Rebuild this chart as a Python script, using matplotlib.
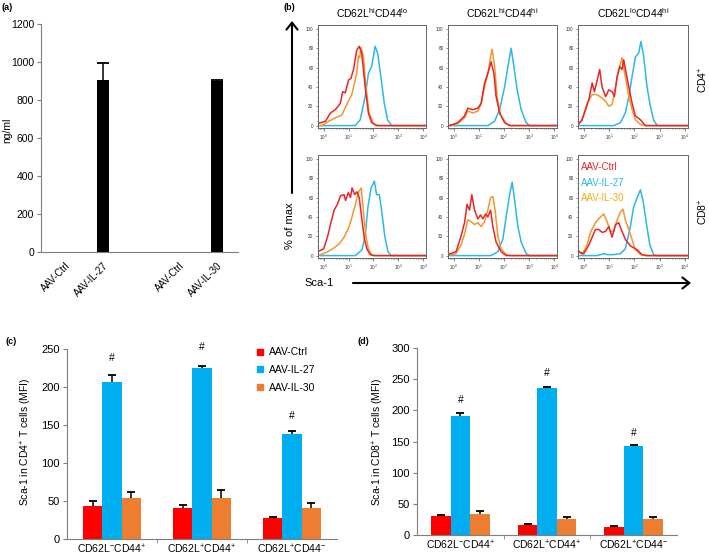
import matplotlib
matplotlib.use("Agg")
import matplotlib.pyplot as plt
from matplotlib.patches import FancyArrowPatch
from matplotlib.lines import Line2D
from matplotlib.ticker import MultipleLocator, FixedLocator

plt.rcParams['font.family'] = ['Liberation Sans', 'DejaVu Sans']
plt.rcParams['mathtext.fontset'] = 'custom'
plt.rcParams['mathtext.rm'] = 'Liberation Sans'
plt.rcParams['mathtext.it'] = 'Liberation Sans:italic'
plt.rcParams['mathtext.bf'] = 'Liberation Sans:bold'

W, H = 709, 560

# ---- (a) serum levels ----
a_labels = ['AAV-Ctrl', 'AAV-IL-27', 'AAV-Ctrl', 'AAV-IL-30']
a_pos = [0, 1, 3, 4]
a_values = [0, 905, 0, 900]
a_err = [0, 90, 0, 5]

# ---- (b) Sca-1 histograms: (log10 Sca-1, % of max) ----
cd4_hilo_ctrl = [(-0.25, 2), (0.07, 4.5), (0.27, 13), (0.47, 16.5), (0.67, 23), (0.76, 35), (0.87, 34),
                 (1.0, 47), (1.1, 49), (1.2, 58), (1.33, 78), (1.43, 82), (1.53, 75), (1.67, 40),
                 (1.8, 13), (1.93, 3), (2.13, 0), (4.15, 0)]
cd4_hilo_il30 = [(-0.25, 0), (-0.07, 0), (0.2, 4.5), (0.47, 8), (0.73, 11), (0.93, 22), (1.13, 32),
                 (1.33, 54), (1.4, 72), (1.45, 70), (1.5, 81), (1.6, 71), (1.7, 40), (1.83, 13),
                 (2.0, 2), (2.2, 0), (4.15, 0)]
cd4_hilo_il27 = [(-0.25, 0), (1.27, 0), (1.47, 6), (1.67, 30), (1.8, 54), (1.93, 61), (2.07, 82),
                 (2.17, 75), (2.3, 51), (2.44, 23), (2.57, 6), (2.73, 0), (4.15, 0)]

cd4_hihi_ctrl = [(-0.25, 0), (-0.17, 0), (0.16, 3), (0.43, 10), (0.56, 18), (0.76, 16.5), (0.96, 18),
                 (1.09, 23), (1.23, 44), (1.36, 54), (1.49, 66), (1.6, 54), (1.69, 30), (1.83, 13),
                 (2.03, 3), (2.23, 0), (4.15, 0)]
cd4_hihi_il30 = [(-0.25, 0), (-0.17, 0), (0.16, 2), (0.43, 8), (0.56, 15), (0.76, 13), (0.96, 15),
                 (1.09, 22), (1.23, 40), (1.36, 54), (1.47, 71), (1.53, 79), (1.63, 61), (1.73, 30),
                 (1.87, 11), (2.09, 2), (2.29, 0), (4.15, 0)]
cd4_hihi_il27 = [(-0.25, 0), (1.36, 0), (1.63, 4.5), (1.83, 16.5), (2.03, 40), (2.16, 61), (2.29, 80),
                 (2.4, 61), (2.53, 37), (2.69, 16.5), (2.89, 3), (3.03, 0), (4.15, 0)]

cd4_lohi_ctrl = [(-0.25, 0), (-0.07, 6), (0.07, 16.5), (0.2, 27), (0.33, 44), (0.42, 35), (0.53, 47),
                 (0.63, 58), (0.72, 40), (0.86, 30), (0.99, 37), (1.12, 35), (1.21, 30), (1.32, 51),
                 (1.42, 61), (1.51, 58), (1.58, 68), (1.64, 59), (1.78, 40), (1.91, 23), (2.04, 10),
                 (2.24, 6), (2.43, 0), (4.15, 0)]
cd4_lohi_il30 = [(-0.25, 0), (-0.07, 6), (0.13, 23), (0.33, 32), (0.53, 32), (0.72, 28.5), (0.86, 25),
                 (0.99, 20), (1.12, 22), (1.25, 40), (1.38, 58), (1.51, 70), (1.64, 51), (1.78, 30),
                 (1.91, 16.5), (2.04, 6), (2.24, 1), (2.43, 0), (4.15, 0)]
cd4_lohi_il27 = [(-0.25, 0), (1.18, 0), (1.45, 3), (1.64, 13), (1.78, 30), (1.91, 51), (2.04, 71),
                 (2.17, 75), (2.26, 87), (2.37, 71), (2.5, 40), (2.63, 20), (2.76, 6), (2.9, 0), (4.15, 0)]

cd8_hilo_ctrl = [(-0.25, 4), (0.0, 7), (0.16, 20), (0.29, 34), (0.42, 47), (0.55, 53), (0.68, 62),
                 (0.82, 63), (0.88, 57), (0.99, 65), (1.08, 60), (1.14, 70), (1.25, 63), (1.34, 66),
                 (1.43, 60), (1.54, 37), (1.64, 17), (1.74, 7), (1.87, 1), (2.0, 0), (4.15, 0)]
cd8_hilo_il30 = [(-0.25, 0), (0.09, 3), (0.36, 7), (0.62, 12), (0.82, 19), (1.01, 29), (1.14, 40),
                 (1.28, 53), (1.41, 66), (1.51, 70), (1.61, 43), (1.7, 20), (1.8, 7), (1.93, 1),
                 (2.07, 0), (4.15, 0)]
cd8_hilo_il27 = [(-0.25, 0), (1.28, 0), (1.54, 6), (1.67, 20), (1.78, 50), (1.91, 70), (2.04, 77),
                 (2.13, 63), (2.24, 63), (2.33, 47), (2.46, 20), (2.59, 4), (2.72, 0), (4.15, 0)]

cd8_hihi_ctrl = [(-0.25, 1), (0.09, 4), (0.29, 20), (0.43, 34), (0.53, 53), (0.63, 47), (0.72, 63),
                 (0.83, 47), (0.96, 38), (1.07, 42), (1.16, 38), (1.27, 43), (1.36, 40), (1.47, 47),
                 (1.56, 30), (1.69, 14), (1.89, 4), (2.09, 0), (4.15, 0)]
cd8_hihi_il30 = [(-0.25, 0), (0.09, 2), (0.29, 11), (0.43, 22), (0.56, 37), (0.69, 35), (0.83, 32),
                 (0.96, 34), (1.09, 30), (1.23, 35), (1.36, 47), (1.47, 60), (1.56, 61), (1.65, 47),
                 (1.76, 20), (1.89, 7), (2.09, 1), (2.29, 0), (4.15, 0)]
cd8_hihi_il27 = [(-0.25, 0), (1.49, 0), (1.76, 4), (1.96, 17), (2.09, 40), (2.23, 63), (2.33, 76),
                 (2.43, 57), (2.56, 30), (2.69, 14), (2.89, 2), (3.03, 0), (4.15, 0)]

cd8_lohi_ctrl = [(-0.25, 4), (0.0, 2), (0.2, 11), (0.33, 19), (0.46, 27), (0.59, 27), (0.72, 24),
                 (0.86, 25), (0.99, 30), (1.12, 19), (1.25, 32), (1.38, 34), (1.51, 25), (1.64, 17),
                 (1.84, 10), (2.11, 6), (2.3, 1), (2.5, 0), (4.15, 0)]
cd8_lohi_il30 = [(-0.25, 7), (-0.07, 1), (0.13, 11), (0.26, 24), (0.46, 34), (0.66, 40), (0.79, 43),
                 (0.92, 35), (1.05, 25), (1.18, 25), (1.32, 37), (1.45, 45), (1.55, 48), (1.64, 37),
                 (1.78, 27), (1.91, 16.5), (2.04, 6), (2.24, 1), (2.43, 0), (4.15, 0)]
cd8_lohi_il27 = [(-0.25, 0), (0.53, 0), (0.79, 2), (0.92, 1), (1.18, 1), (1.45, 2), (1.64, 7),
                 (1.82, 27), (1.97, 50), (2.11, 60), (2.24, 68), (2.34, 57), (2.47, 34), (2.61, 11),
                 (2.76, 1), (2.89, 0), (4.15, 0)]

hist_titles = [r'CD62L$^{\mathrm{hi}}$CD44$^{\mathrm{lo}}$', r'CD62L$^{\mathrm{hi}}$CD44$^{\mathrm{hi}}$',
               r'CD62L$^{\mathrm{lo}}$CD44$^{\mathrm{hi}}$']

# ---- (c)/(d) Sca-1 MFI ----
groups = [r'CD62L$^{-}$CD44$^{+}$', r'CD62L$^{+}$CD44$^{+}$', r'CD62L$^{+}$CD44$^{-}$']
series = ['AAV-Ctrl', 'AAV-IL-27', 'AAV-IL-30']
c_ctrl = [44, 41, 27]
c_ctrl_err = [6, 4, 1.5]
c_il27 = [207, 225, 138]
c_il27_err = [9, 3, 3.5]
c_il30 = [54, 54, 41]
c_il30_err = [8, 10, 7]
c_hash = [238, 252, 162]

d_ctrl = [30, 16, 13]
d_ctrl_err = [2, 2, 2]
d_il27 = [191, 236, 143]
d_il27_err = [4, 2, 1.5]
d_il30 = [34, 25, 25]
d_il30_err = [4, 4, 4]
d_hash = [216, 260, 163]

RED_BAR, BLUE_BAR, ORANGE_BAR = '#ff0000', '#00aeef', '#ed7d31'
RED_H, BLUE_H, ORANGE_H = '#e8262a', '#2cb7e6', '#f3962b'
AXC = '#7f7f7f'

fig = plt.figure(figsize=(W / 100, H / 100), dpi=100)


def box(x0, y0, x1, y1):
    return [x0 / W, 1 - y1 / H, (x1 - x0) / W, (y1 - y0) / H]


def ftext(px, py, s, **kw):
    fig.text(px / W, 1 - py / H, s, **kw)


def upper_errorbar(ax, x, y, err, capsize=3):
    eb = ax.errorbar(x, y, yerr=[[0] * len(err), err], fmt='none', ecolor='k',
                     elinewidth=1.1, capsize=capsize, capthick=1.3)
    eb[1][0].set_visible(False)


# ---- panel (a) ----
ax = fig.add_axes(box(41, 24, 238, 252))
ax.bar(a_pos, a_values, width=0.32, color='k')
nz = [i for i, v in enumerate(a_values) if v > 0]
upper_errorbar(ax, [a_pos[i] for i in nz], [a_values[i] for i in nz], [a_err[i] for i in nz], capsize=4)
ax.set_xlim(-0.63, 4.55)
ax.set_ylim(0, 1200)
ax.set_yticks(range(0, 1201, 200))
ax.set_xticks(a_pos)
ax.set_xticklabels(a_labels, rotation=45, ha='right', rotation_mode='anchor', fontsize=7)
ax.tick_params(axis='x', length=0, pad=6)
ax.tick_params(axis='y', labelsize=7.5, length=3, color=AXC, pad=2)
for s in ['top', 'right']:
    ax.spines[s].set_visible(False)
for s in ['left', 'bottom']:
    ax.spines[s].set_color(AXC)
ftext(7, 130, 'ng/ml', fontsize=7.5, rotation=90, ha='center', va='center')
ftext(2, 8, '(a)', fontsize=6.5, fontweight='bold', va='center')

# ---- panel (b) ----
hist_grid = [[(cd4_hilo_ctrl, cd4_hilo_il27, cd4_hilo_il30),
              (cd4_hihi_ctrl, cd4_hihi_il27, cd4_hihi_il30),
              (cd4_lohi_ctrl, cd4_lohi_il27, cd4_lohi_il30)],
             [(cd8_hilo_ctrl, cd8_hilo_il27, cd8_hilo_il30),
              (cd8_hihi_ctrl, cd8_hihi_il27, cd8_hihi_il30),
              (cd8_lohi_ctrl, cd8_lohi_il27, cd8_lohi_il30)]]
cols = [(318, 426), (448, 557), (578, 688)]
rows = [(25, 128), (155, 258)]
for r, (y0, y1) in enumerate(rows):
    for c, (x0, x1) in enumerate(cols):
        hx = fig.add_axes(box(x0, y0, x1, y1))
        ctrl, il27, il30 = hist_grid[r][c]
        for curve, col in [(il27, BLUE_H), (il30, ORANGE_H), (ctrl, RED_H)]:
            hx.plot([10 ** p[0] for p in curve], [p[1] for p in curve], color=col, lw=1.1)
        hx.set_xscale('log')
        hx.set_xlim(10 ** -0.23, 10 ** 4.12)
        hx.set_ylim(-2.5, 104)
        hx.xaxis.set_major_locator(FixedLocator([1, 10, 100, 1000, 10000]))
        hx.set_yticks(range(0, 101, 20))
        hx.yaxis.set_minor_locator(MultipleLocator(5))
        hx.tick_params(which='both', labelsize=3.3, length=1.8, width=0.5, color='#555555', pad=1.5,
                       labelcolor='#333333')
        hx.tick_params(which='minor', length=1.0)
        for s in hx.spines.values():
            s.set_color('#666666')
            s.set_linewidth(0.7)
        if r == 0:
            ftext((x0 + x1) / 2, 13, hist_titles[c], fontsize=7.5, ha='center', va='center')
        if r == 1 and c == 2:
            for k, (lab, col) in enumerate([('AAV-Ctrl', RED_H), ('AAV-IL-27', BLUE_H),
                                            ('AAV-IL-30', '#f7aa1c')]):
                hx.text(0.03, 0.88 - k * 0.15, lab, color=col, fontsize=7, transform=hx.transAxes,
                        va='center', ha='left')

ftext(283, 8, '(b)', fontsize=6.5, fontweight='bold', va='center')
ftext(703, 80, r'CD4$^{+}$', fontsize=7.5, rotation=90, ha='center', va='center')
ftext(703, 212, r'CD8$^{+}$', fontsize=7.5, rotation=90, ha='center', va='center')
ftext(290, 226, '% of max', fontsize=8, rotation=90, ha='center', va='center')
ftext(304, 283, 'Sca-1', fontsize=8, ha='left', va='center')
fig.add_artist(FancyArrowPatch((292 / W, 1 - 193 / H), (292 / W, 1 - 21 / H), transform=fig.transFigure,
                               arrowstyle='->,head_length=5,head_width=4', lw=1.5, color='k',
                               mutation_scale=1, shrinkA=0, shrinkB=0))
fig.add_artist(FancyArrowPatch((353 / W, 1 - 283 / H), (691 / W, 1 - 283 / H), transform=fig.transFigure,
                               arrowstyle='->,head_length=5,head_width=4', lw=1.5, color='k',
                               mutation_scale=1, shrinkA=0, shrinkB=0))


# ---- panels (c) and (d) ----
def mfi_panel(rect, ctrl, ctrl_err, il27, il27_err, il30, il30_err, hashes, ymax, ylabel, label_x, width,
              legend=False):
    bx = fig.add_axes(rect)
    xs = list(range(len(groups)))
    for off, vals, errs, col in [(-width, ctrl, ctrl_err, RED_BAR), (0, il27, il27_err, BLUE_BAR),
                                 (width, il30, il30_err, ORANGE_BAR)]:
        pos = [x + off for x in xs]
        bx.bar(pos, vals, width=width, color=col)
        upper_errorbar(bx, pos, vals, errs, capsize=3)
    for x, h in zip(xs, hashes):
        bx.text(x, h, '#', ha='center', va='center', fontsize=7.5, clip_on=False)
    bx.set_xlim(-0.5, 2.5)
    bx.set_ylim(0, ymax)
    bx.set_yticks(range(0, ymax + 1, 50))
    bx.set_xticks(xs)
    bx.set_xticklabels(groups, fontsize=7.5)
    bx.xaxis.set_minor_locator(FixedLocator([0.5, 1.5]))
    bx.tick_params(axis='x', which='major', length=0, pad=3)
    bx.tick_params(axis='x', which='minor', length=3, color=AXC)
    bx.tick_params(axis='y', labelsize=8, length=3, color=AXC, pad=2)
    for s in ['top', 'right']:
        bx.spines[s].set_visible(False)
    for s in ['left', 'bottom']:
        bx.spines[s].set_color(AXC)
    ftext(label_x, 442, ylabel, fontsize=7.5, rotation=90, ha='center', va='center')
    if legend:
        handles = [Line2D([], [], marker='s', ls='none', color=col, markersize=5)
                   for col in (RED_BAR, BLUE_BAR, ORANGE_BAR)]
        bx.legend(handles, series, loc='upper left', bbox_to_anchor=(252 / W, 1 - 343 / H),
                  bbox_transform=fig.transFigure, frameon=False, fontsize=7.5, handlelength=0.8,
                  handletextpad=0.4, labelspacing=0.75, borderaxespad=0)
    return bx


mfi_panel(box(67, 349, 337, 539), c_ctrl, c_ctrl_err, c_il27, c_il27_err, c_il30, c_il30_err, c_hash,
          250, r'Sca-1 in CD4$^{+}$ T cells (MFI)', 26, 0.215, legend=True)
mfi_panel(box(417, 348, 677, 535), d_ctrl, d_ctrl_err, d_il27, d_il27_err, d_il30, d_il30_err, d_hash,
          300, r'Sca-1 in CD8$^{+}$ T cells (MFI)', 378, 0.225)
ftext(5, 342, '(c)', fontsize=6.5, fontweight='bold', va='center')
ftext(358, 342, '(d)', fontsize=6.5, fontweight='bold', va='center')

fig.savefig('out.png', dpi=100)
